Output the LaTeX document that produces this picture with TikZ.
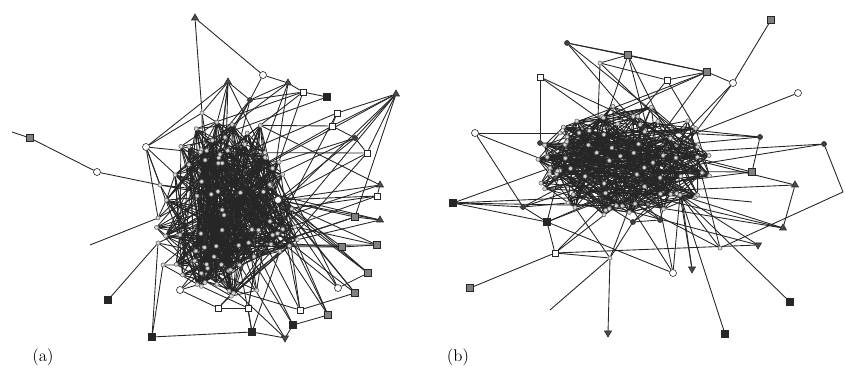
\documentclass[tikz,border=0pt]{standalone}
\usetikzlibrary{shapes.geometric,backgrounds}

\begin{document}
\begin{tikzpicture}[
  x=0.3mm, y=-0.3mm,
  lnk/.style={draw=black!85, line width=0.75pt},
  mk/.style={draw=black!85, line width=0.5pt, inner sep=0pt},
  sqk/.style={mk, rectangle, fill=black!85, minimum size=2.1mm},
  sqg/.style={mk, rectangle, fill=black!50, minimum size=2mm},
  sqw/.style={mk, rectangle, fill=white, minimum size=1.8mm},
  cw/.style={mk, circle, fill=white, minimum size=2.1mm},
  tri/.style={mk, regular polygon, regular polygon sides=3, fill=black!70, minimum size=2.4mm},
  trd/.style={tri, shape border rotate=180},
  dk/.style={mk, circle, fill=black!75, minimum size=1.5mm},
  pt/.style={mk, circle, fill=black!15, draw=black!60, minimum size=1.2mm},
  lbl/.style={font=\Large, inner sep=0pt},
]
  \useasboundingbox (0,0) rectangle (845,372);
  \pgfmathsetseed{31}

  \def\nA{80} % core nodes of (a)
  \def\nB{72} % core nodes of (b)

  % --- core of (a) ---
  \foreach \i in {1,...,\nA}{
    \pgfmathsetmacro\rr{rnd^0.4}
    \pgfmathsetmacro\aa{360*rnd}
    \node[pt] (ca\i) at ({229+78*\rr*cos(\aa)},{207+90*\rr*sin(\aa)}) {};
  }

  % --- outer nodes of (a) ---
  \coordinate (eA1) at (12,132);
  \coordinate (eA2) at (90,245);
  \node[sqg] (gA1) at (30,138) {};
  \node[cw]  (cA2) at (97,172) {};
  \node[cw]  (cA3) at (146,147) {};
  \node[tri] (tA1) at (195,18) {};
  \node[cw]  (cA1) at (263,75) {};
  \node[tri] (tA2) at (228,82) {};
  \node[tri] (tA3) at (288,83) {};
  \node[sqw] (qA1) at (303,92) {};
  \node[sqk] (kA1) at (327,97) {};
  \node[tri] (tA4) at (396,94) {};
  \node[sqw] (qA2) at (337,113) {};
  \node[sqw] (qA3) at (332,126) {};
  \node[dk]  (dA1) at (355,138) {};
  \node[sqw] (qA4) at (367,153) {};
  \node[dk]  (dA2) at (250,100) {};
  \node[pt]  (dA3) at (202,113) {};
  \node[pt]  (lA1) at (160,185) {};
  \node[pt]  (lA2) at (158,218) {};
  \node[pt]  (lA3) at (158,243) {};
  \node[pt]  (lA4) at (163,265) {};
  \node[cw]  (hA)  at (278,200) {};
  \node[tri] (tA7) at (380,185) {};
  \node[sqw] (qA6) at (377,196) {};
  \node[sqg] (gA7) at (355,217) {};
  \node[tri] (tA6) at (380,220) {};
  \node[sqg] (gA5) at (377,245) {};
  \node[sqg] (gA6) at (342,247) {};
  \node[sqg] (gA4) at (368,273) {};
  \node[cw]  (cA4) at (338,288) {};
  \node[sqg] (gA3) at (355,293) {};
  \node[sqg] (gA2) at (328,315) {};
  \node[sqw] (qA7) at (300,310) {};
  \node[sqk] (kA5) at (293,325) {};
  \node[trd] (tA5) at (285,338) {};
  \node[sqk] (kA4) at (252,332) {};
  \node[sqw] (qA9) at (248,308) {};
  \node[sqw] (qA8) at (218,308) {};
  \node[cw]  (cA5) at (180,290) {};
  \node[sqk] (kA3) at (152,337) {};
  \node[sqk] (kA2) at (108,300) {};

  % --- core of (b) ---
  \foreach \i in {1,...,\nB}{
    \pgfmathsetmacro\rr{rnd^0.4}
    \pgfmathsetmacro\aa{360*rnd}
    \node[pt] (cb\i) at ({625+90*\rr*cos(\aa)},{163+60*\rr*sin(\aa)}) {};
  }

  % --- outer nodes of (b) ---
  \coordinate (eB1) at (843,192);
  \coordinate (eB2) at (752,202);
  \coordinate (eB3) at (550,310);
  \node[sqg] (gB1) at (771,20) {};
  \node[dk]  (dB1) at (567,43) {};
  \node[sqg] (gB2) at (628,55) {};
  \node[pt]  (cB1) at (600,63) {};
  \node[sqg] (gB3) at (707,72) {};
  \node[sqw] (qB1) at (667,80) {};
  \node[cw]  (cB2) at (733,83) {};
  \node[sqw] (qB2) at (540,77) {};
  \node[cw]  (cB3) at (798,93) {};
  \node[cw]  (cB4) at (475,133) {};
  \node[dk]  (dB2) at (540,143) {};
  \node[pt]  (lB1) at (560,133) {};
  \node[pt]  (lB2) at (550,168) {};
  \node[dk]  (dB3) at (760,137) {};
  \node[dk]  (dB4) at (824,144) {};
  \node[sqg] (gB4) at (752,172) {};
  \node[tri] (tB1) at (795,185) {};
  \node[pt]  (hB)  at (680,195) {};
  \node[tri] (tB2) at (783,228) {};
  \node[trd] (tB3) at (758,245) {};
  \node[sqk] (kB1) at (453,203) {};
  \node[dk]  (dB5) at (523,207) {};
  \node[sqk] (kB2) at (547,222) {};
  \node[dk]  (dB7) at (633,222) {};
  \node[dk]  (dB8) at (660,220) {};
  \node[sqw] (qB3) at (555,253) {};
  \node[pt]  (dB6) at (610,258) {};
  \node[pt]  (dB9) at (720,248) {};
  \node[cw]  (cB5) at (673,273) {};
  \node[trd] (tB4) at (692,269) {};
  \node[sqg] (gB5) at (470,288) {};
  \node[trd] (tB5) at (608,333) {};
  \node[sqk] (kB3) at (725,334) {};
  \node[sqk] (kB4) at (790,302) {};

  % --- panel labels ---
  \node[lbl] (la) at (43,357) {(a)};
  \node[lbl] (lb) at (458,357) {(b)};

  \begin{scope}[on background layer]
    % core links
    \foreach \k in {1,...,470}{
      \pgfmathrandominteger{\p}{1}{\nA}
      \pgfmathrandominteger{\s}{1}{79}
      \pgfmathtruncatemacro\q{mod(\p+\s-1,\nA)+1}
      \draw[lnk] (ca\p) -- (ca\q);
    }
    \foreach \k in {1,...,390}{
      \pgfmathrandominteger{\p}{1}{\nB}
      \pgfmathrandominteger{\s}{1}{71}
      \pgfmathtruncatemacro\q{mod(\p+\s-1,\nB)+1}
      \draw[lnk] (cb\p) -- (cb\q);
    }

    % outer links of (a)
    \foreach \u/\v in {eA1/gA1, gA1/cA2, cA2/lA1, tA1/cA1, tA1/dA3, cA1/dA2,
        cA1/tA3, cA3/dA3, cA3/tA2, cA3/lA1, cA3/lA2, dA3/tA2, tA2/dA2,
        dA2/tA3, tA3/qA1, dA2/qA1, qA1/kA1, tA4/qA2, tA4/qA3, tA4/dA1,
        tA4/qA4, tA4/gA7, qA2/qA3, qA3/dA1, dA1/qA4, eA2/lA2, kA2/lA3,
        kA3/lA3, kA3/lA4, kA3/kA4, kA4/qA9, kA4/tA5, qA8/qA9, cA5/qA8,
        tA5/kA5, kA5/gA2, tA7/qA6, tA6/gA7, gA5/gA6, gA4/cA4, qA7/gA3,
        hA/tA7, hA/qA6, hA/gA7, hA/tA6, hA/gA5, hA/gA6, hA/gA4, hA/cA4,
        hA/gA3, hA/gA2, hA/qA4, hA/dA1, hA/qA7}
      \draw[lnk] (\u) -- (\v);
    \foreach \o/\m in {cA3/3, tA2/5, tA3/3, qA1/3, kA1/1, tA4/3, qA2/2,
        qA3/2, dA1/2, qA4/2, tA7/2, qA6/2, gA7/2, tA6/2, gA5/2, gA6/2,
        gA4/2, cA4/2, gA3/2, gA2/2, kA5/2, tA5/2, qA7/3, qA8/2, qA9/3,
        kA4/2, cA5/3, lA1/3, lA2/3, lA3/3, lA4/3, dA3/3, dA2/4, hA/6}
      \foreach \j in {1,...,\m}{
        \pgfmathrandominteger{\p}{1}{\nA}
        \draw[lnk] (\o) -- (ca\p);
      }

    % outer links of (b)
    \foreach \u/\v in {gB1/cB2, cB2/gB3, dB1/gB3, dB1/gB2, gB2/cB1,
        gB2/gB3, gB3/qB1, qB1/cB1, qB2/dB2, cB4/lB1, cB4/dB5, dB4/eB1,
        eB1/dB9, dB3/gB4, tB1/tB2, hB/eB2, hB/tB2, hB/tB3, hB/cB5,
        hB/tB4, hB/kB3, hB/kB4, hB/dB9, kB1/dB5, kB1/kB2, kB1/lB2,
        dB5/kB2, kB2/qB3, qB3/gB5, qB3/tB3, qB3/dB6, dB6/tB5, dB6/eB3,
        cB5/kB2, dB7/dB8, dB7/dB6}
      \draw[lnk] (\u) -- (\v);
    \foreach \o/\m in {dB1/2, gB2/3, cB1/2, gB3/3, qB1/2, cB2/2, qB2/2,
        cB3/1, cB4/1, dB2/3, dB3/3, dB4/2, gB4/3, tB1/2, hB/5, kB1/2,
        dB5/3, kB2/3, qB3/2, dB6/2, cB5/2, tB4/1, dB7/3, dB8/3, dB9/2,
        lB1/3, lB2/3, tB2/2, tB3/1}
      \foreach \j in {1,...,\m}{
        \pgfmathrandominteger{\p}{1}{\nB}
        \draw[lnk] (\o) -- (cb\p);
      }
  \end{scope}
\end{tikzpicture}
\end{document}
